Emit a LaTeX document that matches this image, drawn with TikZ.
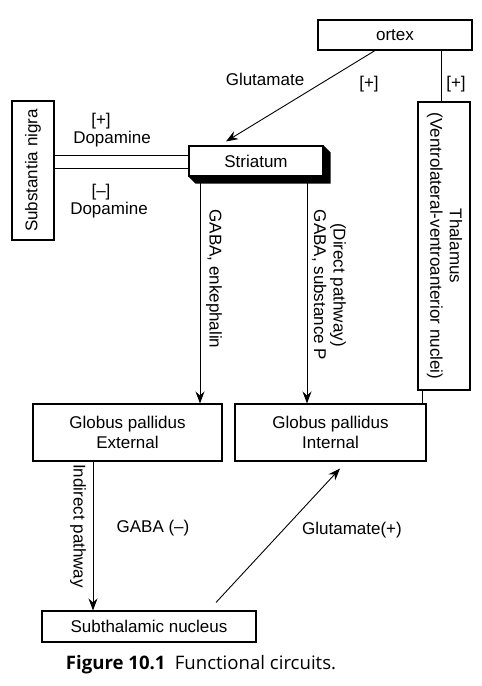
\documentclass[tikz,border=0pt]{standalone}
\usepackage{fontspec}
\setmainfont{Liberation Sans}
\newfontfamily\capfont{Open Sans}
\usetikzlibrary{arrows.meta,calc}
\begin{document}
\begin{tikzpicture}[x=1pt,y=-1pt,
  box/.style={draw,line width=1.1pt,inner sep=0pt,align=center,font=\fontsize{17}{19.5}\selectfont},
  lbl/.style={inner sep=0pt,align=center,font=\fontsize{17}{19.5}\selectfont},
  conn/.style={line width=0.9pt},
  arr/.style={line width=0.9pt,-{Stealth[length=12pt,width=9pt,inset=4pt]}}]
\useasboundingbox (0,0) rectangle (482,686);
% boxes
\node[box,minimum width=154pt,minimum height=30pt] (cortex) at (395,35) {ortex};
\node[box,minimum width=52pt,minimum height=288pt] (thal) at (444,246)
  {\rotatebox{-90}{\begin{tabular}{@{}c@{}}Thalamus\\(Ventrolateral-ventroanterior nuclei)\end{tabular}}};
\node[box,minimum width=42pt,minimum height=139pt] (sn) at (33,170.5)
  {\rotatebox{90}{Substantia nigra}};
\node[box,minimum width=134pt,minimum height=30pt] (str) at (256,161) {Striatum};
\fill (str.north east) -- ++(7,7) -- ([shift={(7,7)}]str.south east)
  -- ([shift={(7,7)}]str.south west) -- (str.south west) -- (str.south east) -- cycle;
\node[box,minimum width=189pt,minimum height=57pt] (gpe) at (127.5,432.5) {Globus pallidus\\External};
\node[box,minimum width=191pt,minimum height=57pt] (gpi) at (330.5,432.5) {Globus pallidus\\Internal};
\node[box,minimum width=214pt,minimum height=31pt] (stn) at (149,626.5) {Subthalamic nucleus};
% connectors
\draw[conn] ([xshift=-3pt]thal.north) -- ([xshift=-3pt]thal.north |- cortex.south);
\draw[conn] ([xshift=-4.5pt]gpi.north east) -- ([xshift=-4.5pt]gpi.north east |- thal.south);
\draw[arr] ([xshift=-20pt]cortex.south) -- ([xshift=-30pt,yshift=4pt]str.north);
\draw[conn] (sn.east |- 0,155) -- (str.west |- 0,155);
\draw[conn] (sn.east |- 0,168) -- (str.west |- 0,168);
\coordinate (s1) at (200,183);
\coordinate (s2) at (307,183);
\draw[arr] (s1) -- (s1 |- gpe.north);
\draw[arr] (s2) -- (s2 |- gpi.north);
\coordinate (e1) at (93,461);
\draw[arr] (e1) -- (e1 |- stn.north);
\draw[arr] ($(stn.north)+(67,-8)$) -- ($(gpi.south)+(9.5,7)$);
% labels
\node[lbl] (l1) at (265,79) {Glutamate};
\node[lbl] (l2) at (369,84) {[+]};
\node[lbl] (l3) at (456,84) {[+]};
\node[lbl] (l4) at (101,121) {[+]};
\node[lbl] (l5) at (112,139) {Dopamine};
\node[lbl] (l6) at (101,192) {[–]};
\node[lbl] (l7) at (109,210) {Dopamine};
\node[lbl,rotate=-90] (l8) at (214,279) {GABA, enkephalin};
\node[lbl,rotate=-90] (l9) at (329,285) {(Direct pathway)\\GABA, substance P};
\node[lbl,rotate=-90] (l10) at (78,526) {Indirect pathway};
\node[lbl] (l11) at (153,528) {GABA (–)};
\node[lbl] (l12) at (352,530) {Glutamate(+)};
\node[inner sep=0pt,font=\capfont\fontsize{18.6}{22}\selectfont] (cap) at (201,665)
  {\textbf{Figure 10.1}\enspace Functional circuits.};
\end{tikzpicture}
\end{document}
